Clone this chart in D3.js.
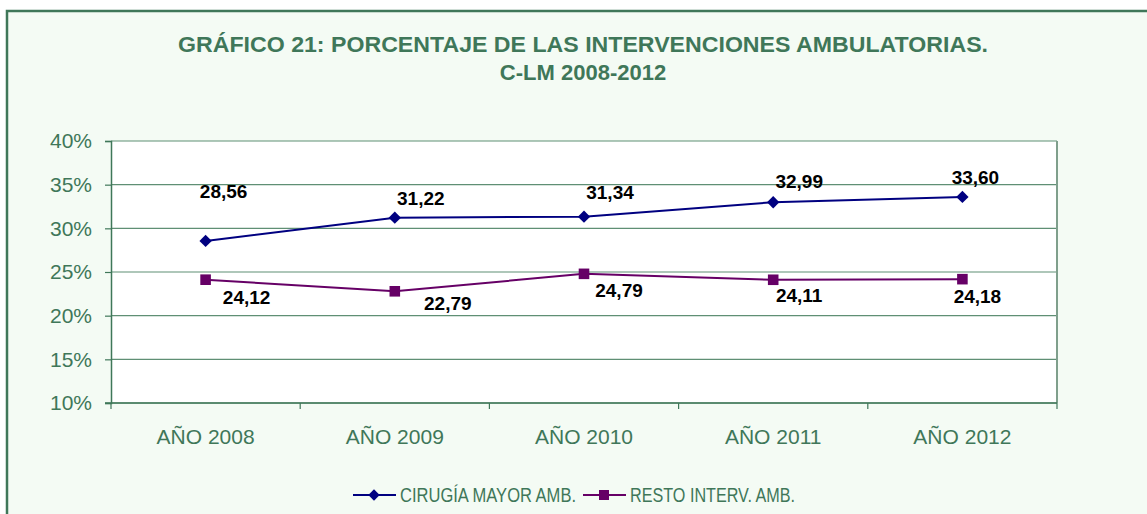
<!DOCTYPE html>
<html>
<head>
<meta charset="utf-8">
<script src="https://cdn.jsdelivr.net/npm/d3@7"></script>
<style>
  body { margin: 0; background: #fff; }
  svg { display: block; font-family: "Liberation Sans", Arial, sans-serif; }
</style>
</head>
<body>
<svg></svg>
<script>
const years = ["AÑO 2008", "AÑO 2009", "AÑO 2010", "AÑO 2011", "AÑO 2012"];
const cirugia = [28.56, 31.22, 31.34, 32.99, 33.60];
const resto = [24.12, 22.79, 24.79, 24.11, 24.18];
const yTicks = [10, 15, 20, 25, 30, 35, 40];
const seriesNames = ["CIRUGÍA MAYOR AMB.", "RESTO INTERV. AMB."];

// label nudges (px) as placed in the original
const cirLabelOff = [[18, -50], [26, -20], [26, -25], [26, -21], [13, -20]];
const restoLabelOff = [[41, 17], [53, 12], [35, 16], [26, 15], [15, 17]];

let w = 1147;
let h = 514;
let green = '#3f7759';
let grid = '#5f8f74';

let svg = d3.select('svg').attr('width', w).attr('height', h);

// outer frame (runs past the window edges)
svg.append('rect')
   .attr('x', 7).attr('y', 11)
   .attr('width', 1300).attr('height', 700)
   .attr('fill', '#f4fbf4')
   .attr('stroke', green)
   .attr('stroke-width', 2.5);

// title
let title = svg.append('text')
   .attr('text-anchor', 'middle')
   .attr('font-weight', 'bold')
   .attr('font-size', 22)
   .attr('fill', green);
title.append('tspan').attr('x', 583).attr('y', 52)
     .attr('textLength', 810).attr('lengthAdjust', 'spacingAndGlyphs')
     .text('GRÁFICO 21: PORCENTAJE DE LAS INTERVENCIONES AMBULATORIAS.');
title.append('tspan').attr('x', 583).attr('y', 80).text('C-LM 2008-2012');

let pL = 111, pR = 1057, pT = 141, pB = 403;

let xSc = d3.scaleBand().domain(years).range([pL, pR]);
let ySc = d3.scaleLinear().domain([10, 40]).range([pB, pT]);

svg.append('rect')
   .attr('x', pL).attr('y', pT)
   .attr('width', pR - pL).attr('height', pB - pT)
   .attr('fill', '#fff');

// gridlines
svg.append('g')
   .selectAll('line')
   .data(yTicks)
   .enter()
   .append('line')
   .attr('x1', pL).attr('x2', pR)
   .attr('y1', d => ySc(d)).attr('y2', d => ySc(d))
   .attr('stroke', grid)
   .attr('stroke-width', 1.2);

svg.append('line')
   .attr('x1', pR).attr('x2', pR)
   .attr('y1', pT).attr('y2', pB)
   .attr('stroke', '#7f9f8c').attr('stroke-width', 2);

// y axis
let yAxis = d3.axisLeft(ySc)
              .tickValues(yTicks)
              .tickSize(6)
              .tickPadding(13)
              .tickFormat(d => d + '%');
let yg = svg.append('g')
   .attr('transform', 'translate(' + pL + ',0)')
   .call(yAxis);
yg.select('.domain').attr('stroke', green).attr('stroke-width', 1.5);
yg.selectAll('.tick line').attr('stroke', green).attr('stroke-width', 1.2);
yg.selectAll('.tick text')
  .attr('font-size', 21)
  .attr('font-family', '"Liberation Sans", Arial, sans-serif')
  .attr('fill', green);

// x axis: ticks sit at the band edges
let xEdges = d3.scaleLinear().domain([0, years.length]).range([pL, pR]);
svg.append('line')
   .attr('x1', pL - 6).attr('x2', pR)
   .attr('y1', pB).attr('y2', pB)
   .attr('stroke', green).attr('stroke-width', 1.5);
svg.append('g')
   .selectAll('line')
   .data(d3.range(years.length + 1))
   .enter()
   .append('line')
   .attr('x1', d => xEdges(d)).attr('x2', d => xEdges(d))
   .attr('y1', pB).attr('y2', pB + 6)
   .attr('stroke', green).attr('stroke-width', 1.2);
svg.append('g')
   .selectAll('text')
   .data(years)
   .enter()
   .append('text')
   .attr('x', d => xSc(d) + xSc.bandwidth() / 2)
   .attr('y', 444)
   .attr('text-anchor', 'middle')
   .attr('font-size', 21)
   .attr('fill', green)
   .text(d => d);

let cx = i => xSc(years[i]) + xSc.bandwidth() / 2;

let drawSeries = (vals, color, isDiamond, offs) => {
  let line = d3.line().x((d, i) => cx(i)).y(d => ySc(d));
  svg.append('path')
     .datum(vals)
     .attr('d', line)
     .attr('fill', 'none')
     .attr('stroke', color)
     .attr('stroke-width', 2);
  svg.append('g')
     .selectAll('path')
     .data(vals)
     .enter()
     .append('path')
     .attr('d', d3.symbol().type(d3.symbolSquare).size(isDiamond ? 76 : 112))
     .attr('transform', (d, i) => 'translate(' + cx(i) + ',' + ySc(d) + ')' + (isDiamond ? ' rotate(45)' : ''))
     .attr('fill', color);
  svg.append('g')
     .selectAll('text')
     .data(vals)
     .enter()
     .append('text')
     .attr('x', (d, i) => cx(i) + offs[i][0])
     .attr('y', (d, i) => ySc(d) + offs[i][1] + 7)
     .attr('text-anchor', 'middle')
     .attr('font-size', 19)
     .attr('font-weight', 'bold')
     .attr('fill', '#000')
     .text(d => d.toFixed(2).replace('.', ','));
};

drawSeries(cirugia, '#000080', true, cirLabelOff);
drawSeries(resto, '#660066', false, restoLabelOff);

// legend
let legend = [
  { name: seriesNames[0], color: '#000080', diamond: true, x: 353, len: 176 },
  { name: seriesNames[1], color: '#660066', diamond: false, x: 583, len: 165 }
];
let lg = svg.append('g').selectAll('g').data(legend).enter().append('g')
            .attr('transform', d => 'translate(' + d.x + ',495)');
lg.append('line')
  .attr('x1', 0).attr('x2', 43).attr('y1', 0).attr('y2', 0)
  .attr('stroke', d => d.color).attr('stroke-width', 2);
lg.append('path')
  .attr('d', d => d3.symbol().type(d3.symbolSquare).size(d.diamond ? 64 : 100)())
  .attr('transform', d => 'translate(21,0)' + (d.diamond ? ' rotate(45)' : ''))
  .attr('fill', d => d.color);
lg.append('text')
  .attr('x', 47).attr('y', 7)
  .attr('font-size', 20)
  .attr('fill', green)
  .attr('textLength', d => d.len)
  .attr('lengthAdjust', 'spacingAndGlyphs')
  .text(d => d.name);
</script>
</body>
</html>
